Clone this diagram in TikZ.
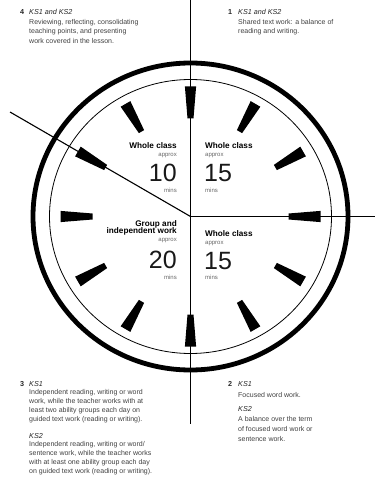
\documentclass[tikz,border=0pt]{standalone}
\usepackage{fontspec}
\setmainfont{Liberation Sans}
\begin{document}
\begin{tikzpicture}[x=1pt,y=-1pt,
  txt/.style={inner sep=0pt, text=black!75, font=\fontsize{7}{8}\selectfont, anchor=base west},
  head/.style={inner sep=0pt, text=black!85, font=\fontsize{7.2}{8}\selectfont\itshape, anchor=base west},
  num/.style={inner sep=0pt, text=black!85, font=\fontsize{7.2}{8}\selectfont\bfseries, anchor=base west},
  qt/.style={inner sep=0pt, font=\fontsize{8.2}{9}\selectfont\bfseries},
  qs/.style={inner sep=0pt, text=black!60, font=\fontsize{6}{7}\selectfont},
  qn/.style={inner sep=0pt, text=black!90, font=\fontsize{25}{27}\selectfont},
  tick/.style={fill=black},
  ln/.style={line width=1.1pt}]
\useasboundingbox (0,0) rectangle (375,484);
\coordinate (c) at (190.5,216.5);
\coordinate (top) at (190.5,0);
\coordinate (bot) at (190.5,424);
\coordinate (rt) at (375,216.5);
\coordinate (ul) at (10,112);
% circles
\draw[line width=4.8pt] (c) ellipse [x radius=157.5, y radius=153.5];
\draw[line width=0.8pt] (c) ellipse [x radius=141, y radius=137];
% ticks
\begin{scope}[shift={(c)}]
\foreach \a in {0,30,...,330}
  \fill[tick,rotate=\a] (98,-3) -- (130,-5.6) -- (130,5.6) -- (98,3) -- cycle;
\end{scope}
% lines
\draw[ln] (top) -- (bot);
\draw[ln] (c) -- (rt);
\draw[ln] (c) -- (ul);
% quadrant labels
\node[qt,anchor=base east] (a1) at (177,148) {Whole class};
\node[qs,anchor=base east] (a2) at (177,156) {approx};
\node[qn,anchor=base east] (a3) at (177,181) {10};
\node[qs,anchor=base east] (a4) at (177,192) {mins};
\node[qt,anchor=base west] (b1) at (205,148) {Whole class};
\node[qs,anchor=base west] (b2) at (205,156) {approx};
\node[qn,anchor=base west] (b3) at (204,181) {15};
\node[qs,anchor=base west] (b4) at (205,192) {mins};
\node[qt,anchor=base east] (d0) at (177,226) {Group and};
\node[qt,anchor=base east] (d1) at (177,233.5) {independent work};
\node[qs,anchor=base east] (d2) at (177,241) {approx};
\node[qn,anchor=base east] (d3) at (177,268) {20};
\node[qs,anchor=base east] (d4) at (177,279) {mins};
\node[qt,anchor=base west] (e1) at (205,236) {Whole class};
\node[qs,anchor=base west] (e2) at (205,244) {approx};
\node[qn,anchor=base west] (e3) at (204,269) {15};
\node[qs,anchor=base west] (e4) at (205,279) {mins};
% corner 4
\node[num] (n4) at (20,15) {4};
\node[head] (h4) at (29,15) {KS1 and KS2};
\foreach \t [count=\i] in {{Reviewing, reflecting, consolidating},{teaching points, and presenting},{work covered in the lesson.}}
  \node[txt] (t4\i) at (29,15+9.5*\i) {\t};
% corner 1
\node[num] (n1) at (228,15) {1};
\node[head] (h1) at (238,15) {KS1 and KS2};
\foreach \t [count=\i] in {{Shared text work: a balance of},{reading and writing.}}
  \node[txt] (t1\i) at (238,15+9.5*\i) {\t};
% corner 3
\node[num] (n3) at (20,386) {3};
\node[head] (h3) at (29,386) {KS1};
\foreach \t [count=\i] in {{Independent reading, writing or word},{work, while the teacher works with at},{least two ability groups each day on},{guided text work (reading or writing).}}
  \node[txt] (t3\i) at (29,386+8.8*\i) {\t};
\node[head] (h3b) at (29,438) {KS2};
\foreach \t [count=\i] in {{Independent reading, writing or word/},{sentence work, while the teacher works},{with at least one ability group each day},{on guided text work (reading or writing).}}
  \node[txt] (t3b\i) at (29,438+8.8*\i) {\t};
% corner 2
\node[num] (n2) at (228,386) {2};
\node[head] (h2) at (238,386) {KS1};
\node[txt] (t21) at (238,397) {Focused word work.};
\node[head] (h2b) at (238,411) {KS2};
\foreach \t [count=\i] in {{A balance over the term},{of focused word work or},{sentence work.}}
  \node[txt] (t2b\i) at (238,411+10*\i) {\t};
\end{tikzpicture}
\end{document}
